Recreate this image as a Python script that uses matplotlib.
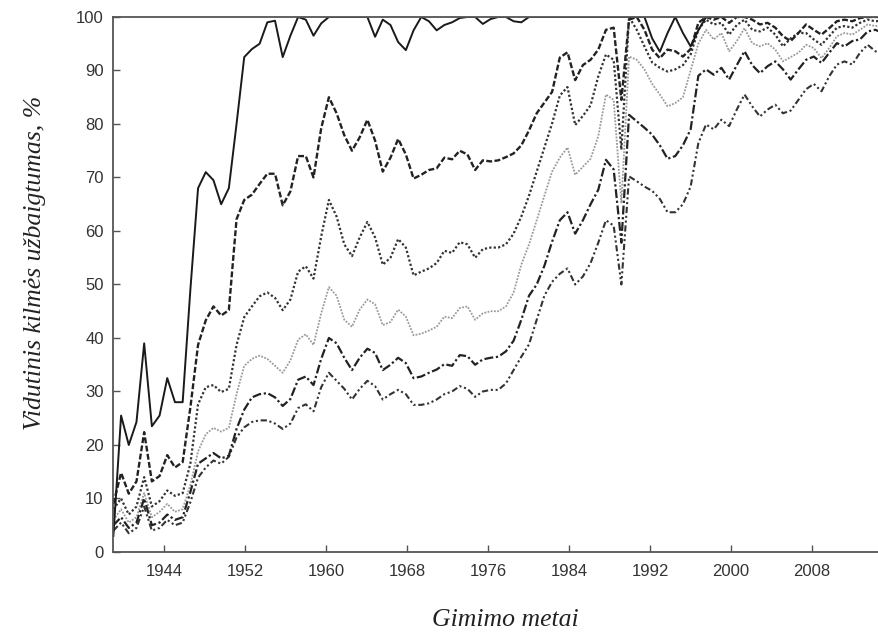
import numpy as np
import matplotlib
matplotlib.use("Agg")
import matplotlib.pyplot as plt

# gimimo metai: taskai kas 0.76 m. nuo 1939
years = 1939 + 0.76 * np.arange(101)

solid = [3, 25.5, 20, 24.3, 39, 23.5, 25.5, 32.5, 28, 28,
         49, 68, 71, 69.5, 65, 68, 80, 92.5, 94, 95,
         99, 99.3, 92.5, 96.5, 100, 99.5, 96.5, 98.8, 100, 100,
         100, 100, 100, 100, 96.3, 99.5, 98.5, 95.3, 93.8, 97.5,
         100, 99.2, 97.5, 98.5, 99, 99.8, 100, 100, 98.7, 99.6,
         100, 100, 99.2, 99, 100, 100, 100, 100, 100, 100,
         100, 100, 100, 100, 100, 100, 100, 100, 100, 100,
         96, 93.5, 97, 100, 97, 94.5, 97.5, 100, 100, 100,
         100, 100, 100, 100, 100, 100, 100, 100, 100, 100,
         100, 100, 100, 100, 100, 100, 100, 100, 100, 100, 100]

dashed = [9, 14.8, 10.9, 13.2, 22.4, 13.2, 14.2, 18.1, 15.8, 16.8,
          27, 38.7, 43.3, 45.9, 44.2, 45.2, 62.2, 65.8, 66.8, 68.8,
          70.7, 70.7, 64.8, 67.4, 74, 74, 70, 79.2, 85, 82,
          77.9, 75, 77.5, 80.8, 76.9, 71.1, 73.7, 77.2, 74.3, 69.8,
          70.5, 71.4, 71.7, 73.7, 73.4, 75, 74.3, 71.4, 73.2, 73,
          73.2, 73.8, 74.5, 76, 78.8, 82, 84, 86, 92.4, 93.4,
          88.2, 91, 92, 93.9, 97.6, 98, 84.5, 99.5, 100, 97.6,
          93.9, 92.3, 93.9, 93.6, 92.6, 94, 98.9, 100, 99.5, 100,
          98.9, 100, 100, 99.5, 98.6, 98.9, 98, 96.4, 95.5, 97,
          98.6, 97.6, 96.7, 97.9, 99.2, 99.5, 99.2, 99.8, 100, 100, 100]

dotted = [8, 10, 7, 8.5, 14, 8.5, 9.5, 11.5, 10.5, 11,
          16.5, 27.6, 30.8, 31.2, 29.9, 30.5, 38.7, 43.9, 45.9, 47.8,
          48.5, 47.5, 45.2, 47.2, 52.4, 53.4, 51.1, 59, 65.8, 62.7,
          57.5, 55.3, 58.8, 61.7, 58.8, 53.7, 55, 58.5, 56.9, 51.7,
          52.4, 53, 54, 56.3, 55.9, 57.9, 57.5, 55, 56.6, 56.9,
          56.9, 57.5, 59.5, 62.7, 66.6, 71.1, 75.6, 80.1, 85.3, 86.9,
          79.8, 81.5, 83.5, 88.9, 93, 92, 75.2, 100, 97.6, 94.5,
          91.5, 90.5, 89.8, 90.2, 91, 93, 97.6, 99.5, 98.6, 98.9,
          96.7, 98.5, 99.5, 97.6, 97.3, 98, 96.7, 94.5, 96, 97,
          97, 95.8, 94.8, 96.4, 98, 98.3, 98, 98.9, 99.5, 99.2, 99.3]

grey = [6, 8, 5.5, 6.5, 11, 6.5, 7.5, 9, 7.5, 8,
        12.5, 18.8, 22, 23.2, 22.5, 23.2, 29.5, 34.8, 36.1, 36.7,
        36.1, 34.8, 33.5, 35.8, 39.7, 40.7, 38.7, 44.6, 49.5, 47.9,
        43.4, 42.1, 45.3, 47.2, 46.3, 42.4, 43, 45.3, 44, 40.5,
        40.8, 41.4, 42.1, 44, 43.7, 45.6, 45.9, 43.4, 44.6, 45,
        45, 45.9, 48.5, 53.7, 57.5, 62, 66.6, 71.1, 73.7, 75.6,
        70.5, 72, 73.5, 77.7, 85.5, 84.5, 65.2, 92.6, 92, 90.2,
        87.5, 85.5, 83.3, 83.9, 85, 90, 95, 97.6, 95.8, 97,
        93.6, 95.5, 97.9, 95.1, 94.5, 95.1, 93.9, 91.7, 92.5, 93.3,
        94.8, 94.2, 92.3, 94.2, 96.4, 97, 96.7, 97.6, 98.6, 98.3, 98.5]

dashdot = [5, 6.5, 4.5, 5.5, 10, 5, 5.5, 7, 6, 6.5,
           11.2, 16.5, 17.5, 18.5, 17.5, 18, 23, 26.6, 28.9, 29.5,
           29.7, 28.9, 27.3, 28.6, 32.2, 32.8, 31.2, 36.1, 40, 39,
           36.3, 34, 36.3, 38, 37.2, 34, 35, 36.3, 35.3, 32.5,
           32.8, 33.5, 34.1, 35.1, 34.8, 36.8, 36.6, 35, 36, 36.3,
           36.5, 37.5, 39.5, 43.4, 47.9, 50, 53.5, 58, 62, 63.5,
           59.5, 62, 65, 67.7, 73.3, 71.5, 57.8, 81.7, 80.5, 79.3,
           78, 76, 73.5, 74, 76, 79, 89, 90.2, 89.2, 90.5,
           88.3, 91, 93.6, 91, 89.5, 90.8, 91.7, 90.2, 88.3, 90.2,
           92, 92.6, 91.4, 93.3, 95.1, 94.5, 95.5, 95.8, 97.3, 97.6, 97]

dashdotdot = [4, 5.5, 3.5, 4.5, 8.5, 4, 4.5, 6, 5, 5.5,
              9.3, 13.9, 15.8, 17.1, 16.5, 17.8, 21.4, 23.3, 24.3, 24.6,
              24.6, 24, 23, 24, 26.9, 27.6, 26.3, 30.8, 33.5, 32,
              30.5, 28.5, 30.5, 32, 31, 28.5, 29.5, 30.3, 29.5, 27.5,
              27.5, 27.8, 28.5, 29.5, 30, 31, 30.5, 29, 30, 30.3,
              30.3, 31.5, 34, 36.5, 38.8, 43.4, 47.9, 50.5, 52, 53,
              50, 51.5, 54, 57.8, 62, 61, 50, 70.2, 69.3, 68.3,
              67.5, 66, 63.5, 63.5, 65, 68.3, 76.4, 79.9, 79, 80.8,
              79.6, 82.7, 85.5, 83.3, 81.4, 82.7, 83.6, 82, 82.5, 84.5,
              86.5, 87.5, 86.1, 88.9, 91.1, 91.7, 91.1, 93.3, 94.8, 93.6, 93]

xticks = [1944, 1952, 1960, 1968, 1976, 1984, 1992, 2000, 2008]
yticks = [0, 10, 20, 30, 40, 50, 60, 70, 80, 90, 100]

fig = plt.figure(figsize=(8.79, 6.38), dpi=100)
ax = fig.add_axes([0.129, 0.1348, 0.871, 0.8386])

ax.plot(years, grey, color='#9a9a9a', lw=1.3, ls=(0, (1, 0.8)))
ax.plot(years, dashdotdot, color='#333333', lw=1.5, ls=(0, (3, 1.3, 1, 1.3, 1, 1.3)))
ax.plot(years, dashdot, color='#222222', lw=1.6, ls=(0, (4, 1.2, 1, 1.2)))
ax.plot(years, dotted, color='#333333', lw=1.6, ls=(0, (1, 1)))
ax.plot(years, dashed, color='#222222', lw=1.7, ls=(0, (2.5, 1)))
ax.plot(years, solid, color='#1a1a1a', lw=1.4, ls='-')

ax.set_xlim(1939, 2014.6)
ax.set_ylim(0, 100)
ax.set_xticks(xticks)
ax.set_yticks(yticks)
ax.tick_params(direction='in', length=5, width=1, colors='#555555',
               labelcolor='#333333', labelsize=12, pad=9)
ax.tick_params(axis='y', pad=7)
for lab in ax.get_xticklabels() + ax.get_yticklabels():
    lab.set_family('Liberation Sans')
ax.spines['right'].set_visible(False)
for s in ['left', 'top', 'bottom']:
    ax.spines[s].set_color('#555555')
    ax.spines[s].set_linewidth(1.3)

fig.text(0.04, 1 - 263 / 638, 'Vidutinis kilmės užbaigtumas, %', rotation=90,
         ha='center', va='center', fontsize=18.5, style='italic',
         family='Liberation Serif', color='#222222')
fig.text(505 / 879, 1 - 620 / 638, 'Gimimo metai', ha='center', va='center',
         fontsize=18.5, style='italic', family='Liberation Serif', color='#222222')

fig.savefig('out.png', dpi=100)
